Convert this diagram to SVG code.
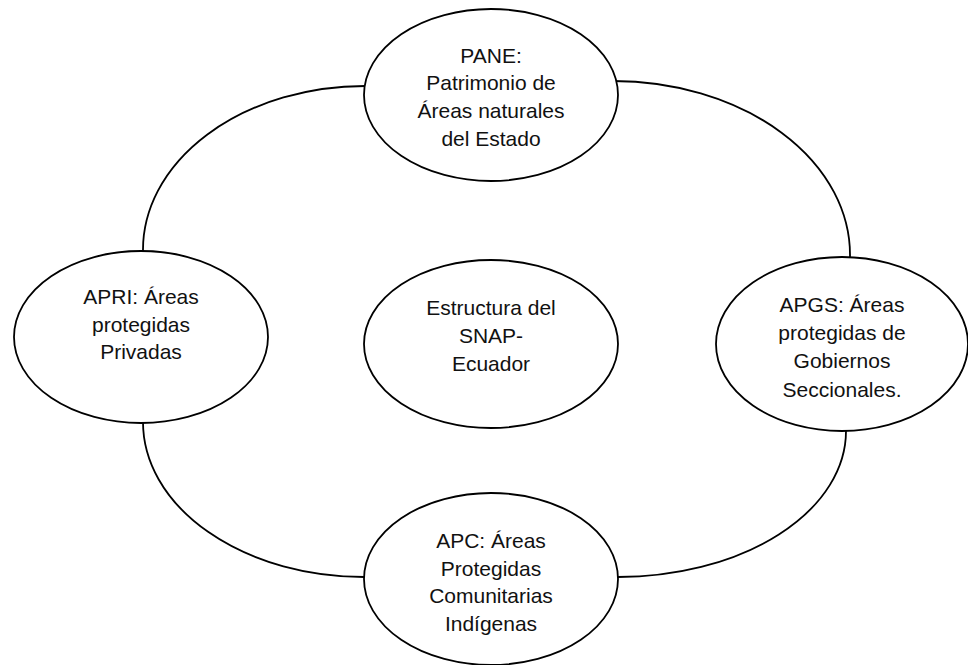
<svg xmlns="http://www.w3.org/2000/svg" width="968" height="665" viewBox="0 0 968 665">
<style>
.c{fill:none;stroke:#000;stroke-width:1.8}
.n{fill:#fff;stroke:#000;stroke-width:1.8}
text{font-family:"Liberation Sans",Arial,sans-serif;font-size:21px;fill:#111;text-anchor:middle}
</style>
<rect width="968" height="665" fill="#fff"/>
<g id="connectors">
<path class="c" d="M366,86 A222,164 0 0 0 143,252"/>
<path class="c" d="M613,81 A237,174 0 0 1 850,257"/>
<path class="c" d="M143,422 A221,155 0 0 0 365,577"/>
<path class="c" d="M846,431 A228,146 0 0 1 617,577"/>
</g>
<g id="pane">
<ellipse class="n" cx="491" cy="95" rx="127" ry="86"/>
<text x="491" y="63">PANE:</text>
<text x="491" y="90">Patrimonio de</text>
<text x="491" y="118">Áreas naturales</text>
<text x="491" y="146">del Estado</text>
</g>
<g id="apri">
<ellipse class="n" cx="141" cy="337" rx="127" ry="86"/>
<text x="141" y="304">APRI: Áreas</text>
<text x="141" y="332">protegidas</text>
<text x="141" y="359">Privadas</text>
</g>
<g id="snap">
<ellipse class="n" cx="491" cy="344" rx="127" ry="84"/>
<text x="491" y="315">Estructura del</text>
<text x="491" y="343">SNAP-</text>
<text x="491" y="371">Ecuador</text>
</g>
<g id="apgs">
<ellipse class="n" cx="842" cy="344" rx="126" ry="87"/>
<text x="842" y="312">APGS: Áreas</text>
<text x="842" y="340">protegidas de</text>
<text x="842" y="368">Gobiernos</text>
<text x="842" y="397">Seccionales.</text>
</g>
<g id="apc">
<ellipse class="n" cx="491" cy="579" rx="127" ry="86"/>
<text x="491" y="548">APC: Áreas</text>
<text x="491" y="576">Protegidas</text>
<text x="491" y="603">Comunitarias</text>
<text x="491" y="631">Indígenas</text>
</g>
</svg>
